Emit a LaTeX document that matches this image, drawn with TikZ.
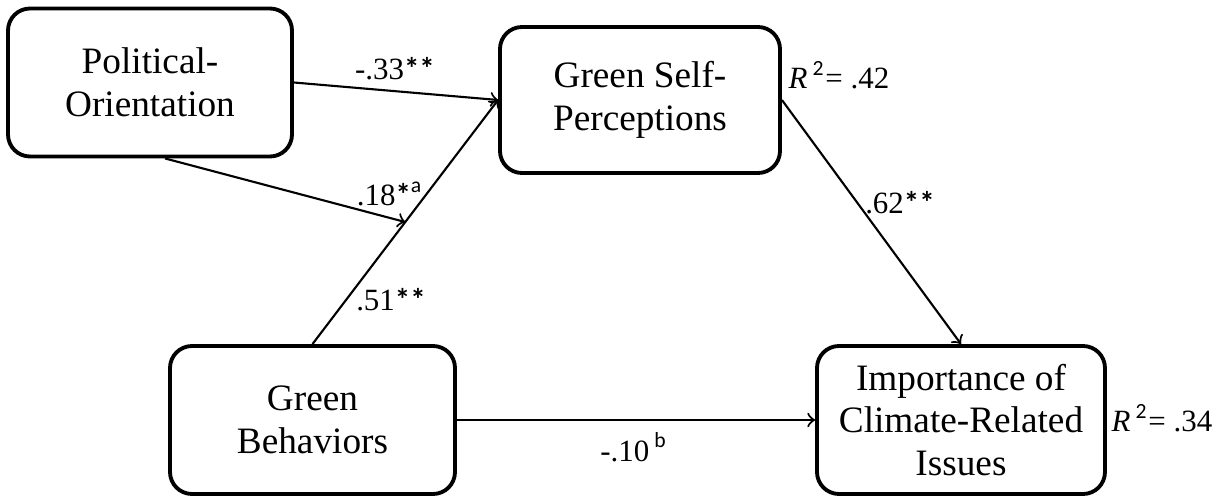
\documentclass[tikz,border=0pt]{standalone}
\usepackage{fontspec}
\setmainfont{Liberation Serif}
\newfontfamily\calfont{Carlito}
\usetikzlibrary{arrows,positioning,calc}
\tikzset{vbox/.style={rounded corners=0.22cm, draw, line width=1.1pt, minimum width=2.84cm, minimum height=1.48cm, inner sep=0pt, align=center, font=\fontsize{10.6}{12.2}\selectfont}}
\tikzset{arr/.style={draw, ->, line width=0.6pt}}
\tikzset{coef/.style={inner sep=0pt, font=\fontsize{8.8}{10}\selectfont}}
\newcommand{\sig}[1]{{\calfont\textsuperscript{#1}}}
\newcommand{\stars}[1]{{\calfont\bfseries #1}}
\newcommand{\rsq}[1]{\textit{R}\,{\calfont\textsuperscript{2}}= #1}

\begin{document}
\begin{tikzpicture}
		\useasboundingbox (0,0) rectangle (12.2,4.99);

		\node[vbox] (PO) at (1.50,4.165){Political-\\Orientation};
		\node[vbox, minimum width=2.80cm, minimum height=1.46cm] (GSP) at (6.40,3.99){Green Self-\\Perceptions};
		\node[vbox, minimum width=2.85cm] (GB) at (3.125,0.79){Green\\Behaviors};
		\node[vbox, minimum width=2.88cm] (IMP) at (9.61,0.79){Importance of\\Climate-Related\\Issues};

		\coordinate (mid) at ($(GB.north)!0.5!(GSP.west)$);

		\draw[arr] (PO.east) -- (GSP.west);
		\draw[arr] (GB.north) -- (GSP.west);
		\draw[arr] ([xshift=0.15cm]PO.south) -- (mid);
		\draw[arr] (GSP.east) -- (IMP.north);
		\draw[arr] (GB.east) -- (IMP.west);

		\node[coef] (c1) at (3.95,4.30){-.33\stars{**}};
		\node[coef] (c2) at (3.90,3.05){.18\stars{*}\sig{a}};
		\node[coef] (c3) at (3.91,1.99){.51\stars{**}};
		\node[coef] (c4) at (9.00,2.96){.62\stars{**}};
		\node[coef] (c5) at (6.34,0.52){-.10\,\sig{b}};

		\node[coef] (r1) at (8.39,4.24){\rsq{.42}};
		\node[coef] (r2) at (11.62,0.81){\rsq{.34}};
	\end{tikzpicture}
\end{document}
